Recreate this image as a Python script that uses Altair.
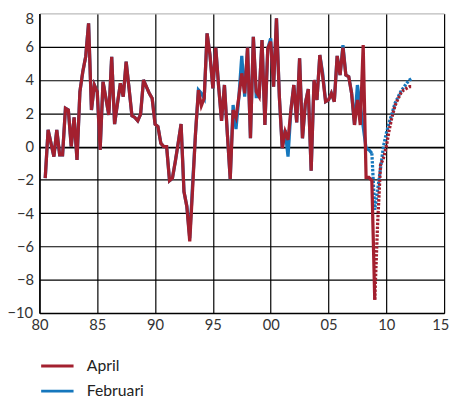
import altair as alt
import pandas as pd

# quarterly GDP growth, start 1980 Q3
start_year = 1980.5
april_actual = [
    -1.9, 1.0, 0.2, -0.6, 1.0, -0.5, -0.5, 2.3, 2.2, 0.0, 1.75, -0.8, 3.3, 4.5,
    5.4, 7.4, 2.2, 3.7, 3.3, -0.2, 3.9, 2.9, 1.9, 5.4, 1.35, 2.6, 3.8, 3.0, 5.1,
    3.5, 1.85, 1.75, 1.55, 1.95, 4.0, 3.6, 3.2, 2.9, 1.35, 1.2, 0.2, 0.0, 0.0,
    -2.05, -1.9, -0.9, 0.2, 1.35, -2.7, -3.6, -5.7, -2.5, 0.8, 3.4, 2.45, 2.9,
    6.8, 5.5, 3.5, 5.95, 3.6, 1.55, 3.7, 0.8, -1.95, 2.2, 1.75, 3.0, 4.4, 3.2,
    5.95, 0.5, 6.6, 3.3, 3.0, 6.4, 1.3, 5.9, 6.3, 3.6, 7.7, 3.0, -0.1, 0.9, 0.4,
    2.2, 3.7, 1.45, 5.3, 0.5, 2.6, 3.45, -1.45, 4.0, 2.8, 5.5, 4.2, 2.7, 2.8,
    3.2, 2.7, 5.45, 4.3, 5.95, 4.3, 4.2, 3.2, 1.3, 2.8, 1.3, 6.1, -1.85, -1.85,
    -2.05, -9.2,
]
april_forecast = [-4.6, -1.1, -0.7, 0.0, 1.0, 1.8, 2.45, 2.85, 3.2, 3.4, 3.5, 3.6, 3.6]

februari_actual = [
    -1.9, 1.0, 0.2, -0.6, 1.0, -0.5, -0.5, 2.3, 2.2, 0.0, 1.75, -0.8, 3.3, 4.5,
    5.4, 7.4, 2.2, 3.7, 3.3, -0.2, 3.9, 2.9, 1.9, 5.4, 1.35, 2.6, 3.8, 3.0, 5.1,
    3.5, 1.85, 1.75, 1.55, 1.95, 4.0, 3.6, 3.2, 2.9, 1.35, 1.2, 0.2, 0.0, 0.0,
    -2.05, -1.9, -0.9, 0.2, 1.35, -2.7, -3.6, -5.5, -2.2, 0.8, 3.4, 3.2, 2.9,
    6.8, 5.5, 3.5, 5.95, 3.6, 1.55, 3.7, 0.8, -1.95, 2.5, 1.05, 3.0, 5.45, 3.0,
    5.95, 0.5, 6.6, 3.0, 3.0, 6.4, 1.3, 5.9, 6.5, 3.6, 7.7, 3.0, -0.1, 1.0, -0.6,
    2.2, 3.7, 1.45, 5.3, 0.5, 2.6, 3.45, -1.45, 4.0, 2.8, 5.5, 4.4, 2.7, 2.8,
    3.2, 2.7, 5.45, 4.3, 6.1, 4.3, 4.2, 3.2, 1.3, 3.7, 2.45, 1.2, -0.1, -0.2,
    -0.4,
]
februari_forecast = [-3.8, -2.6, -1.3, 0.0, 0.8, 1.45, 2.0, 2.6, 2.95, 3.3, 3.55, 3.8, 4.0, 4.1]

series_names = ["April", "Februari"]
series_colors = ["#a3202f", "#1577bd"]
y_ticks = [-10, -8, -6, -4, -2, 0, 2, 4, 6, 8]
x_ticks = [1980, 1985, 1990, 1995, 2000, 2005, 2010, 2015]


def build(name, actual, forecast):
    rows = []
    for i, v in enumerate(actual):
        rows.append({"year": start_year + 0.25 * i, "value": v, "series": name, "part": "actual"})
    last = len(actual) - 1
    rows.append({"year": start_year + 0.25 * last, "value": actual[-1], "series": name, "part": "forecast"})
    for j, v in enumerate(forecast):
        rows.append({"year": start_year + 0.25 * (last + 1 + j), "value": v, "series": name, "part": "forecast"})
    return pd.DataFrame(rows)


df_apr = build("April", april_actual, april_forecast)
df_feb = build("Februari", februari_actual, februari_forecast)

FONT = "Lato"

x_enc = alt.X(
    "year:Q",
    scale=alt.Scale(domain=[1980, 2015], nice=False, zero=False),
    axis=alt.Axis(
        values=x_ticks, format="d", labelExpr="substring(datum.label, 2)",
        title=None, grid=True, gridColor="#000000", gridWidth=1.2,
        domainColor="#000000", domainWidth=1.5, ticks=False,
        labelPadding=5, labelFont=FONT, labelFontSize=15, labelColor="#333333",
        labelFlush=False, labelOverlap=False,
        labelOffset={"condition": {"test": "datum.value === 2015", "value": -4}, "value": 0},
    ),
)
y_enc = alt.Y(
    "value:Q",
    scale=alt.Scale(domain=[-10, 8], nice=False, zero=False),
    axis=alt.Axis(
        values=y_ticks, title=None, grid=True,
        gridColor={"condition": {"test": "datum.value === 8", "value": "#bbbbbb"}, "value": "#000000"},
        gridWidth={"condition": {"test": "datum.value === 0", "value": 1.8}, "value": 1.2},
        domainColor="#000000", domainWidth=1.5, ticks=False,
        labelPadding={"condition": {"test": "datum.value === -10", "value": 7}, "value": 6},
        labelOffset={"condition": {"test": "datum.value === 8", "value": 5}, "value": 0},
        labelFont=FONT, labelFontSize=15, labelColor="#333333",
        labelOverlap=False, labelFlush=False,
    ),
)
color_enc = alt.Color(
    "series:N",
    scale=alt.Scale(domain=series_names, range=series_colors),
    legend=alt.Legend(
        orient="none", legendX=8.25, legendY=349, direction="vertical", title=None,
        symbolType="M-2,0H2", symbolStrokeWidth=3, symbolSize=272,
        labelFont=FONT, labelFontSize=16, labelColor="#222222", labelOffset=20,
        rowPadding=7.5,
    ),
)
dash_enc = alt.StrokeDash(
    "part:N",
    scale=alt.Scale(domain=["actual", "forecast"], range=[[1, 0], [2.5, 1.5]]),
    legend=None,
)


def layer(df):
    return alt.Chart(df).mark_line(strokeWidth=3.3).encode(
        x=x_enc, y=y_enc, color=color_enc, strokeDash=dash_enc, detail="part:N",
        order="year:Q",
    )


chart = alt.layer(layer(df_feb), layer(df_apr)).properties(
    width=412, height=305,
    autosize=alt.AutoSizeParams(type="none"),
    padding={"left": 32, "top": 2, "right": 7, "bottom": 84},
).configure_view(stroke=None)

chart.save("out.html", embed_options={"renderer": "svg", "actions": False})
